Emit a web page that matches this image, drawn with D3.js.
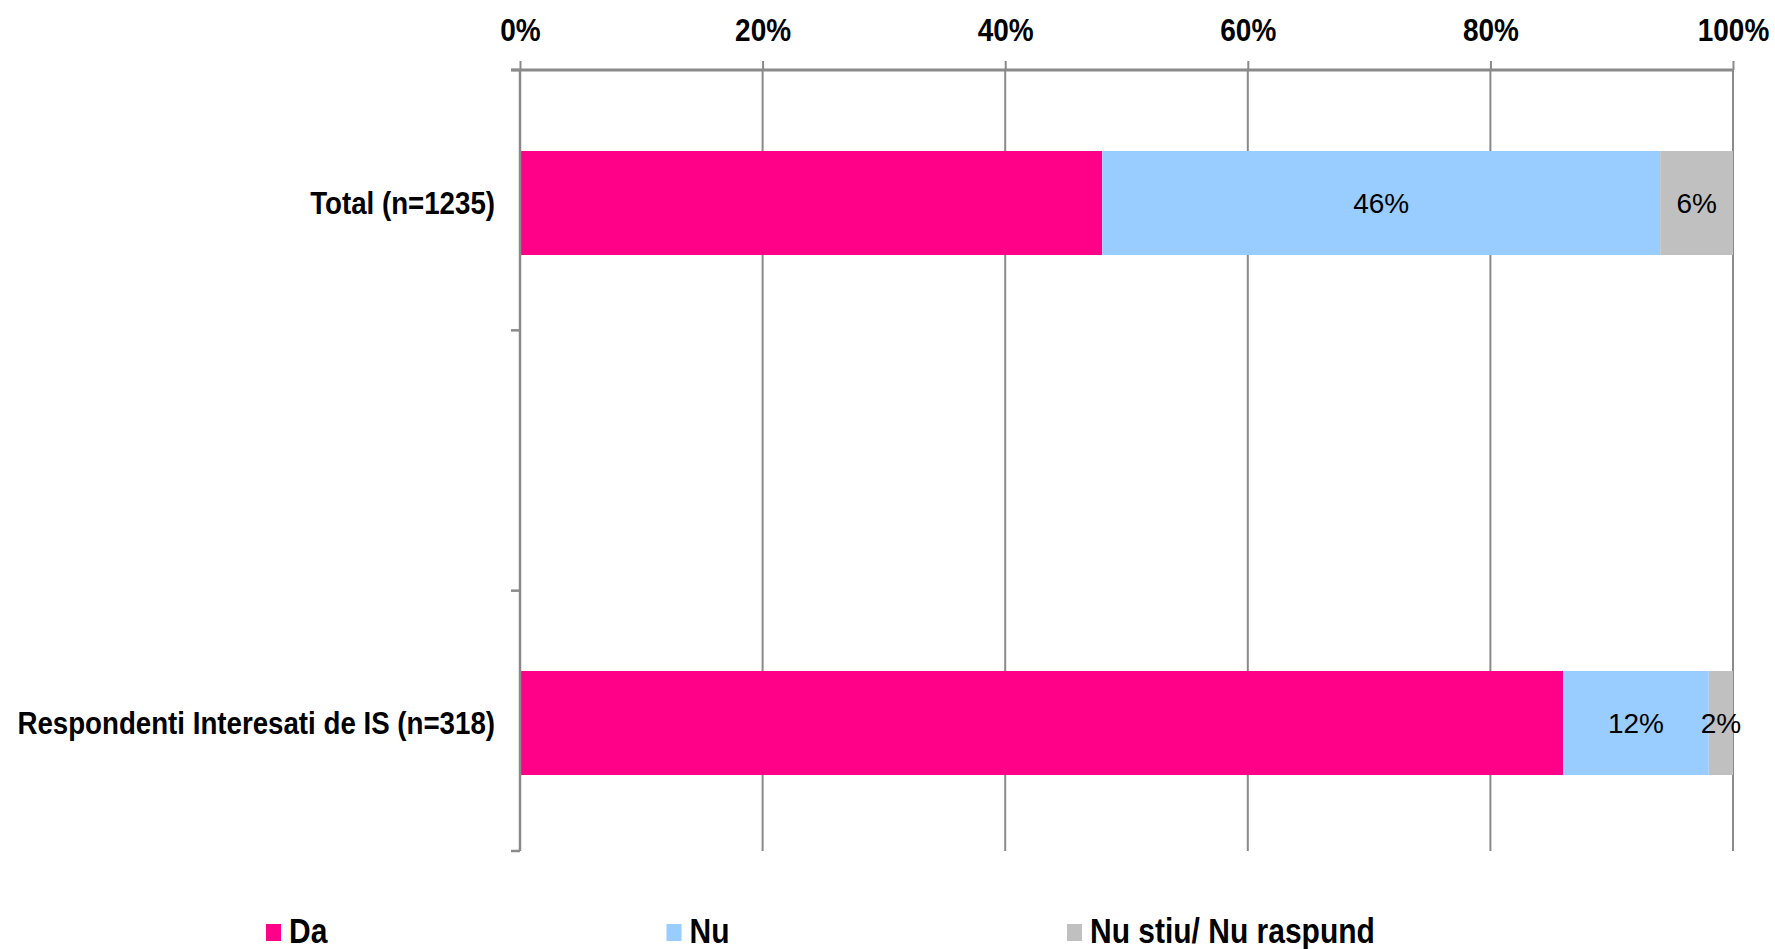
<!DOCTYPE html>
<html>
<head>
<meta charset="utf-8">
<title>Da / Nu</title>
<script src="https://cdn.jsdelivr.net/npm/d3@7/dist/d3.min.js"></script>
<style>
    body { margin: 0; background: #fff; }
    text { font-family: "Liberation Sans", Arial, sans-serif; }
</style>
</head>
<body>
<script>
    // categories (middle one is the empty gap row from the original sheet)
    var categories = ["Total (n=1235)", "", "Respondenti Interesati de IS (n=318)"];
    var seriesNames = ["Da", "Nu", "Nu stiu/ Nu raspund"];
    var da = [48, null, 86];
    var nu = [46, null, 12];
    var nuStiu = [6, null, 2];
    var showLabel = [false, true, true];   // the pink segments carry no label
    var tickValues = [0, 20, 40, 60, 80, 100];
    var colors = ["#ff0088", "#99ccff", "#c0c0c0"];

    var width = 1775, height = 949;
    var plotLeft = 520, plotRight = 1733, plotTop = 70, plotBottom = 851;
    var sy = 1.15; // the axis text in the picture is a bit stretched vertically

    var svg = d3.select("body").append("svg")
        .attr("width", width)
        .attr("height", height);

    var x = d3.scaleLinear().domain([0, 100]).range([plotLeft, plotRight]);
    // bars sit a touch below the band centre in the original
    var y = d3.scaleBand().domain(categories).range([plotTop + 3, plotBottom + 2])
        .paddingInner(0.6).paddingOuter(0.3);

    // gridlines
    svg.append("g").selectAll("line")
        .data(tickValues)
        .enter().append("line")
        .attr("x1", d => x(d)).attr("x2", d => x(d))
        .attr("y1", plotTop).attr("y2", plotBottom)
        .attr("stroke", "#8a8a8a")
        .attr("stroke-width", 2);

    // build rows for stacking
    var rows = categories.map(function (c, i) {
        return { cat: c, "Da": da[i], "Nu": nu[i], "Nu stiu/ Nu raspund": nuStiu[i] };
    }).filter(d => d["Da"] != null);

    var stack = d3.stack().keys(seriesNames);
    var stacked = stack(rows);

    var layers = svg.selectAll("g.layer")
        .data(stacked)
        .enter().append("g")
        .attr("class", "layer")
        .attr("fill", (d, i) => colors[i]);

    layers.selectAll("rect")
        .data(d => d)
        .enter().append("rect")
        .attr("x", d => x(d[0]))
        .attr("width", d => x(d[1]) - x(d[0]))
        .attr("y", d => y(d.data.cat))
        .attr("height", y.bandwidth());

    layers.each(function (layer, i) {
        if (!showLabel[i]) return;
        d3.select(this).selectAll("text")
            .data(layer)
            .enter().append("text")
            .attr("x", d => (x(d[0]) + x(d[1])) / 2)
            .attr("y", d => y(d.data.cat) + y.bandwidth() / 2 + 10)
            .attr("text-anchor", "middle")
            .attr("font-size", 28)
            .attr("fill", "#000")
            .text(d => (d[1] - d[0]) + "%");
    });

    // top axis
    var xAxis = d3.axisTop(x)
        .tickValues(tickValues)
        .tickFormat(d => d + "%")
        .tickSize(9)
        .tickSizeOuter(0);

    var gx = svg.append("g")
        .attr("transform", "translate(0," + plotTop + ")")
        .call(xAxis);
    gx.select(".domain").attr("stroke", "#8a8a8a").attr("stroke-width", 3)
        .attr("d", "M" + (plotLeft - 9) + ",0H" + plotRight);
    gx.selectAll(".tick line").attr("stroke", "#8a8a8a").attr("stroke-width", 2);
    gx.selectAll(".tick text")
        .attr("y", 0).attr("dy", 0)
        .attr("transform", "translate(0,-29) scale(1," + sy + ")")
        .attr("font-size", 28)
        .attr("font-weight", "bold")
        .attr("fill", "#000")
        .attr("font-family", null);

    // left axis with ticks on the band boundaries
    var step = (plotBottom - plotTop) / categories.length;
    var bounds = d3.range(categories.length + 1).map(i => plotTop + i * step);
    var gy = svg.append("g");
    gy.append("line")
        .attr("x1", plotLeft).attr("x2", plotLeft)
        .attr("y1", plotTop).attr("y2", plotBottom)
        .attr("stroke", "#8a8a8a").attr("stroke-width", 2.5);
    gy.selectAll("line.tick")
        .data(bounds)
        .enter().append("line")
        .attr("class", "tick")
        .attr("x1", plotLeft - 9).attr("x2", plotLeft)
        .attr("y1", d => d).attr("y2", d => d)
        .attr("stroke", "#8a8a8a").attr("stroke-width", 2.5);

    gy.selectAll("text")
        .data(categories.filter(c => c !== ""))
        .enter().append("text")
        .attr("transform", d => "translate(" + (plotLeft - 25) + "," + (y(d) + y.bandwidth() / 2 + 11) + ") scale(1," + sy + ")")
        .attr("text-anchor", "end")
        .attr("font-size", 27.7)
        .attr("font-weight", "bold")
        .text(d => d);

    // legend
    var legend = svg.append("g").selectAll("g")
        .data(seriesNames)
        .enter().append("g")
        .attr("transform", (d, i) => "translate(" + (266 + i * 400.5) + ",932)");
    legend.append("rect")
        .attr("x", 0).attr("y", -8)
        .attr("width", 15).attr("height", 17)
        .attr("fill", (d, i) => colors[i]);
    legend.append("text")
        .attr("transform", "translate(23,11) scale(1," + sy + ")")
        .attr("font-size", 30)
        .attr("font-weight", "bold")
        .text(d => d);
</script>
</body>
</html>
